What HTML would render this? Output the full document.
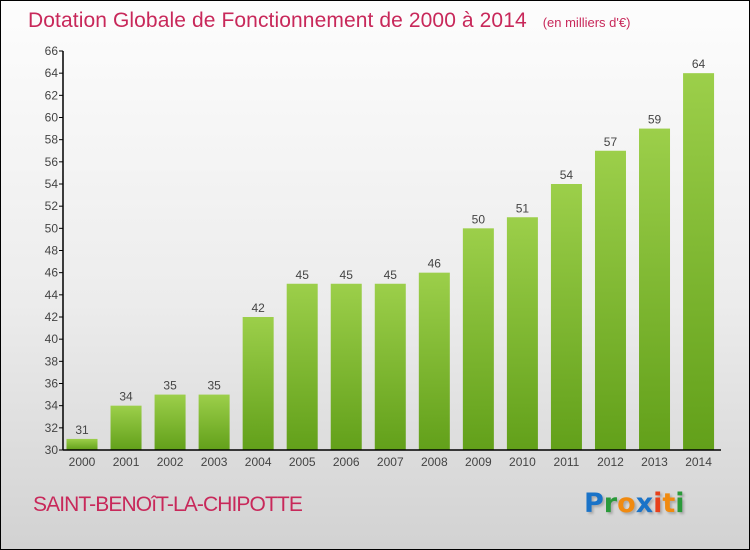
<!DOCTYPE html>
<html><head><meta charset="utf-8"><style>
html,body{margin:0;padding:0}
body{width:750px;height:550px;overflow:hidden}
#wrap{position:relative;width:748px;height:548px;border:1px solid #000;background:linear-gradient(#fdfdfd 0%,#ececec 55%,#d2d2d2 100%);font-family:"Liberation Sans",sans-serif}
.t{position:absolute;white-space:nowrap}
</style></head><body>
<div id="wrap">
<div class="t" style="left:27px;top:8px;font-size:21px;color:#c8285a;letter-spacing:0.1px">Dotation Globale de Fonctionnement de 2000 à 2014 <span style="font-size:13px;margin-left:10px;letter-spacing:0">(en milliers d'€)</span></div>
<svg id="chart" width="748" height="548" style="position:absolute;left:0;top:0"></svg>
<div class="t" style="left:32px;top:492px;font-size:21px;color:#c8285a;letter-spacing:-0.9px">SAINT-BENOîT-LA-CHIPOTTE</div>
<div class="t" style="left:583px;top:487px;font-size:27px;font-family:'DejaVu Sans',sans-serif;font-weight:bold;text-shadow:2px 2px 2px #aaa"><span style="color:#1a73c8">P</span><span style="color:#2a9a3a">r</span><span style="color:#f08a10">o</span><span style="color:#1a73c8">x</span><span style="color:#e8401a">i</span><span style="color:#f08a10">t</span><span style="color:#2a9a3a">i</span></div>
</div>
<script>
const years=["2000","2001","2002","2003","2004","2005","2006","2007","2008","2009","2010","2011","2012","2013","2014"];
const values=[31,34,35,35,42,45,45,45,46,50,51,54,57,59,64];
const yTicks=[30,32,34,36,38,40,42,44,46,48,50,52,54,56,58,60,62,64,66];
const NS="http://www.w3.org/2000/svg";
const svg=document.getElementById('chart');
const yMin=30,yMax=66,yTop=50,yBot=449,axisX=62;
function y(v){return yBot-(v-yMin)/(yMax-yMin)*(yBot-yTop);}
function x(i){return 81+i*44.04;}
function mk(tag,attrs){const e=document.createElementNS(NS,tag);for(const k in attrs)e.setAttribute(k,attrs[k]);svg.appendChild(e);return e;}
const defs=mk('defs',{});
const grad=document.createElementNS(NS,'linearGradient');grad.setAttribute('id','bg');grad.setAttribute('x1','0');grad.setAttribute('y1','0');grad.setAttribute('x2','0');grad.setAttribute('y2','1');
grad.innerHTML='<stop offset="0" stop-color="#9ccf4a"/><stop offset="1" stop-color="#62a01a"/>';defs.appendChild(grad);
values.forEach((v,i)=>{
  const r=mk('rect',{x:x(i)-15.5,y:y(v),width:31,height:yBot-y(v),fill:'url(#bg)'});
  
  
  const l=mk('text',{x:x(i),y:y(v)-5,'text-anchor':'middle','font-size':12,fill:'#444','font-family':'Liberation Sans, sans-serif'});
  l.textContent=v;
  
  
  const t=mk('text',{x:x(i),y:yBot+16,'text-anchor':'middle','font-size':12,fill:'#444','font-family':'Liberation Sans, sans-serif'});
  t.textContent=years[i];
  
  
});
yTicks.forEach(v=>{
  const tk=mk('line',{x1:axisX-4,x2:axisX,y1:y(v),y2:y(v),stroke:'#000'});
  
  
  const t=mk('text',{x:axisX-5,y:y(v)+4,'text-anchor':'end','font-size':12,fill:'#444','font-family':'Liberation Sans, sans-serif'});
  t.textContent=v;
  
  
});
const ya=mk('line',{x1:axisX,x2:axisX,y1:yTop,y2:yBot,stroke:'#000','stroke-width':1.5});


const xa=mk('line',{x1:axisX,x2:720,y1:yBot,y2:yBot,stroke:'#000','stroke-width':1.5});


</script>
</body></html>
